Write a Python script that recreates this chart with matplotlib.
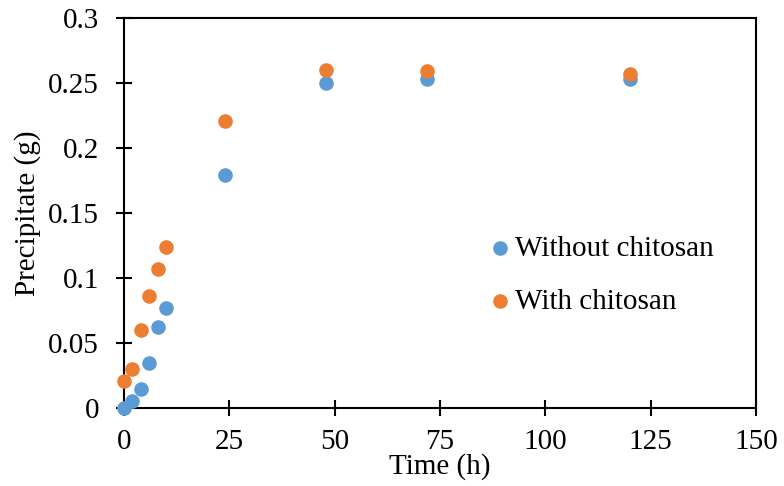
import matplotlib
matplotlib.use("Agg")
import matplotlib.pyplot as plt

plt.rcParams['font.family'] = ['Liberation Serif', 'DejaVu Serif']

time_h = [0, 2, 4, 6, 8, 10, 24, 48, 72, 120]
without_chitosan = [0.0, 0.0055, 0.0145, 0.035, 0.062, 0.077, 0.179, 0.250, 0.253, 0.253]
with_chitosan = [0.021, 0.030, 0.060, 0.086, 0.107, 0.124, 0.221, 0.260, 0.259, 0.257]

x_ticks = [0, 25, 50, 75, 100, 125, 150]
y_ticks = [0, 0.05, 0.1, 0.15, 0.2, 0.25, 0.3]
y_labels = ['0', '0.05', '0.1', '0.15', '0.2', '0.25', '0.3']

FS = 21

fig = plt.figure(figsize=(7.84, 4.86), dpi=100)
ax = fig.add_axes([124 / 784, 1 - 408 / 486, (756 - 124) / 784, (408 - 18) / 486])

ax.scatter(time_h, without_chitosan, s=110, color='#5B9BD5', label='Without chitosan',
           zorder=3, linewidths=0, clip_on=False)
ax.scatter(time_h, with_chitosan, s=110, color='#ED7D31', label='With chitosan',
           zorder=3, linewidths=0, clip_on=False)

ax.set_xlim(0, 150)
ax.set_ylim(0, 0.3)
ax.set_xticks(x_ticks)
ax.set_yticks(y_ticks)
ax.set_yticklabels(y_labels)
ax.tick_params(axis='both', direction='inout', length=12, width=1.5, labelsize=FS)
ax.tick_params(axis='x', pad=9)
ax.tick_params(axis='y', pad=12)
for sp in ax.spines.values():
    sp.set_linewidth(1.5)
    sp.set_color('black')

ax.set_xlabel('Time (h)', fontsize=FS, labelpad=-1)
ax.set_ylabel('Precipitate (g)', fontsize=FS, labelpad=5)

ax.legend(loc='center left', bbox_to_anchor=(485.5 / 784, 1 - 275 / 486),
          bbox_transform=fig.transFigure, frameon=False, fontsize=FS,
          handlelength=1.0, handletextpad=0.0, labelspacing=0.9,
          borderpad=0, borderaxespad=0)

fig.savefig('out.png', dpi=100)
